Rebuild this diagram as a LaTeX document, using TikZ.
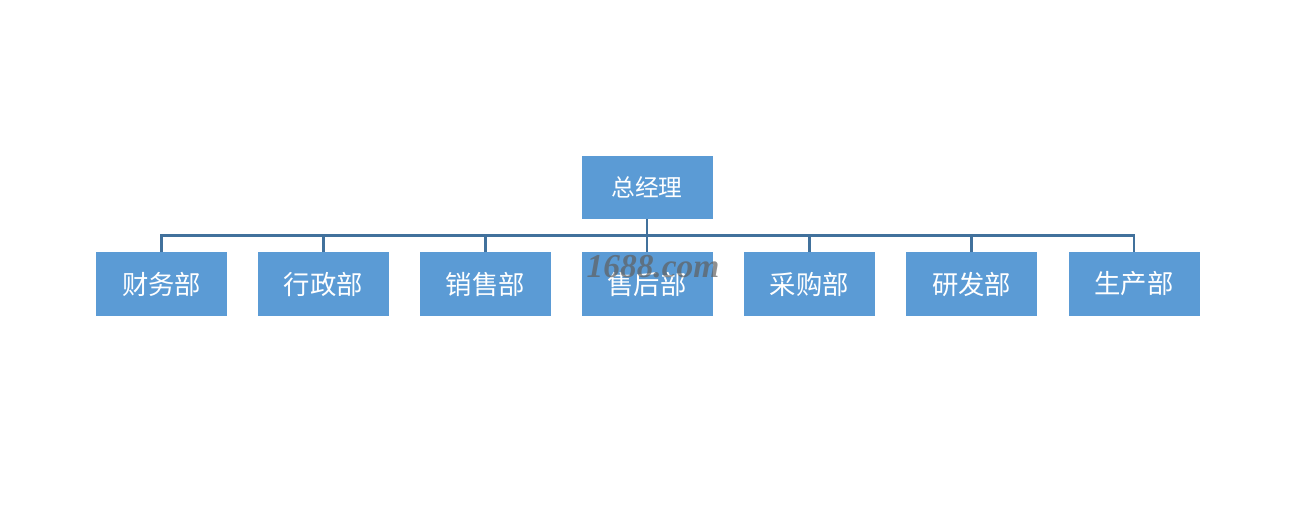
\documentclass[tikz,border=0pt]{standalone}
\usepackage{fontspec}
\setmainfont{Liberation Serif}
\newfontfamily\cjk{Noto Sans CJK SC}
\usepackage{xcolor}
\usetikzlibrary{positioning,calc}

\definecolor{boxblue}{HTML}{5B9BD5}
\definecolor{lineblue}{HTML}{41719C}

\begin{document}
\begin{tikzpicture}[
    node distance=0.615cm,
    font=\cjk,
    every node/.style={align=center, outer sep=0pt},
    dept/.style={
        fill=boxblue,
        text=white,
        minimum width=2.62cm,
        minimum height=1.27cm,
        font=\cjk\fontsize{15}{17}\selectfont
    },
    link/.style={draw=lineblue, line width=1.6pt}
]

% page frame
\useasboundingbox (0,0) rectangle (26.14,-10.6);

% General manager
\node[
    dept,
    font=\cjk\fontsize{13.5}{15}\selectfont
] (gm) at (12.94,-3.75) {总经理};

% Departments
\node[dept, below=0.66cm of gm] (aftersales) {售后部};
\node[dept, left=of aftersales] (sales) {销售部};
\node[dept, left=of sales] (admin) {行政部};
\node[dept, left=of admin] (finance) {财务部};
\node[dept, right=0.63cm of aftersales] (purchase) {采购部};
\node[dept, right=0.625cm of purchase] (rnd) {研发部};
\node[dept, right=0.625cm of rnd] (production) {生产部};

% Connections
\coordinate (bus) at ($(gm.south)!0.5!(aftersales.north)$);
\draw[link] (gm.south) -- (bus);
\draw[link] (finance.north) |- (bus) -| (production.north);
\foreach \dep in {admin,sales,aftersales,purchase,rnd}
    \draw[link] (\dep.north) -- (\dep.north |- bus);

% Watermark
\node[
    text=gray!75!black,
    opacity=0.7,
    font=\bfseries\itshape\fontsize{19}{20}\selectfont
] (mark) at (13.06,-5.34) {1688.com};

\end{tikzpicture}
\end{document}
